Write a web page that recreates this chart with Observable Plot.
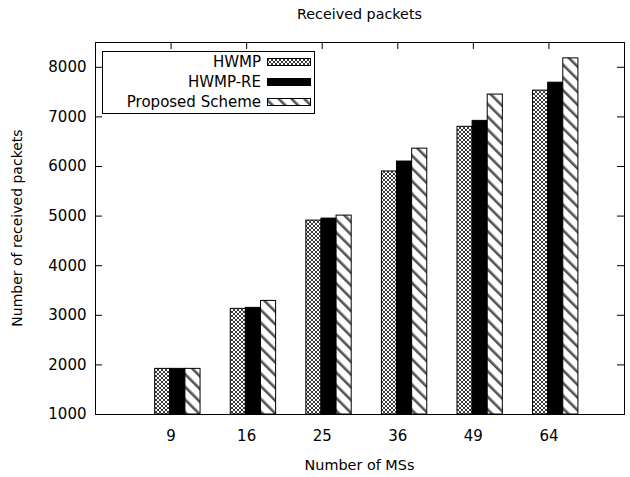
<!DOCTYPE html>
<html>
<head>
<meta charset="utf-8">
<script src="https://cdn.jsdelivr.net/npm/d3@7"></script>
<script src="https://cdn.jsdelivr.net/npm/@observablehq/plot@0.6"></script>
<style>
  html, body { margin: 0; padding: 0; background: #fff; }
</style>
</head>
<body>
<div id="chart"></div>
<script>
const categories = ["9", "16", "25", "36", "49", "64"];
const hwmp     = [1920, 3130, 4910, 5900, 6800, 7530];
const hwmpRe   = [1920, 3150, 4950, 6100, 6920, 7690];
const proposed = [1920, 3290, 5010, 6360, 7450, 8180];
const seriesNames = ["HWMP", "HWMP-RE", "Proposed Scheme"];
const yTicks = [1000, 2000, 3000, 4000, 5000, 6000, 7000, 8000];
const yDomain = [1000, 8500];
const titleText = "Received packets";
const xLabel = "Number of MSs";
const yLabel = "Number of received packets";

const fills = ["url(#crosshatch)", "#000", "url(#diag)"];
const seriesValues = [hwmp, hwmpRe, proposed];
const positions = categories.map((c, i) => i + 1);

const barW = 0.2, groupShift = 0.09;
const seriesData = seriesValues.map((vals, k) =>
  vals.map((v, i) => ({
    cat: categories[i],
    x1: positions[i] + groupShift + (k - 1) * barW - barW / 2,
    x2: positions[i] + groupShift + (k - 1) * barW + barW / 2,
    v
  }))
);

const W = 630, H = 477, mL = 95, mR = 6, mT = 42, mB = 63;
const fw = W - mL - mR, fh = H - mT - mB, tk = 7;

const chart = Plot.plot({
  width: W, height: H,
  marginLeft: mL, marginRight: mR, marginTop: mT, marginBottom: mB,
  style: { fontFamily: "DejaVu Sans", fontSize: "15px", background: "#fff", color: "#000" },
  x: { domain: [0, 7] },
  y: { domain: yDomain },
  marks: [
    ...seriesData.map((d, k) => Plot.rectY(d, {
      x1: "x1", x2: "x2", y1: () => yDomain[0], y2: "v",
      fill: fills[k], stroke: "#000", strokeWidth: 1
    })),
    Plot.tickX(positions, { x: d => d, insetTop: fh - tk, stroke: "#000" }),
    Plot.tickX(positions, { x: d => d, insetBottom: fh - tk, stroke: "#000" }),
    Plot.tickY(yTicks, { y: d => d, insetRight: fw - tk, stroke: "#000" }),
    Plot.tickY(yTicks, { y: d => d, insetLeft: fw - tk, stroke: "#000" }),
    Plot.axisX(positions, { tickFormat: i => categories[i - 1], tickSize: 0, tickPadding: 16, label: null, fontSize: 15 }),
    Plot.axisY(yTicks, { tickFormat: d => String(d), tickSize: 0, tickPadding: 9, label: null, fontSize: 15 }),
    Plot.frame({ stroke: "#000", strokeWidth: 1 })
  ]
});

const svg = d3.select(chart);
const defs = svg.insert("defs", ":first-child");
const ch = defs.append("pattern").attr("id", "crosshatch")
  .attr("patternUnits", "userSpaceOnUse").attr("width", 4).attr("height", 4);
ch.append("rect").attr("width", 4).attr("height", 4).attr("fill", "#fff");
ch.append("path").attr("d", "M0,0L4,4M4,0L0,4").attr("stroke", "#222").attr("stroke-width", 0.9);
const dg = defs.append("pattern").attr("id", "diag")
  .attr("patternUnits", "userSpaceOnUse").attr("width", 9).attr("height", 9)
  .attr("patternTransform", "rotate(-45)");
dg.append("rect").attr("width", 9).attr("height", 9).attr("fill", "#fff");
dg.append("rect").attr("width", 2.6).attr("height", 9).attr("fill", "#555");

const font = "DejaVu Sans";
svg.append("text").text(titleText)
  .attr("x", mL + fw / 2).attr("y", 19).attr("text-anchor", "middle")
  .attr("font-family", font).attr("font-size", 14.3);
svg.append("text").text(xLabel)
  .attr("x", mL + fw / 2).attr("y", 466).attr("text-anchor", "middle").attr("dominant-baseline", "middle")
  .attr("font-family", font).attr("font-size", 14.4);
svg.append("text").text(yLabel)
  .attr("transform", `translate(18,${mT + fh / 2}) rotate(-90)`)
  .attr("text-anchor", "middle").attr("dominant-baseline", "middle")
  .attr("font-family", font).attr("font-size", 14);

// legend inside plot
const lg = svg.append("g");
lg.append("rect").attr("x", 102.5).attr("y", 51.5).attr("width", 212).attr("height", 62)
  .attr("fill", "#fff").attr("stroke", "#000");
seriesNames.forEach((name, k) => {
  const cy = 62 + k * 20;
  lg.append("text").text(name).attr("x", 261).attr("y", cy)
    .attr("text-anchor", "end").attr("dominant-baseline", "middle")
    .attr("font-family", font).attr("font-size", 15);
  lg.append("rect").attr("x", 267.5).attr("y", cy - 3.5).attr("width", 43).attr("height", 7)
    .attr("fill", fills[k]).attr("stroke", "#000");
});

document.getElementById("chart").appendChild(chart);
</script>
</body>
</html>
